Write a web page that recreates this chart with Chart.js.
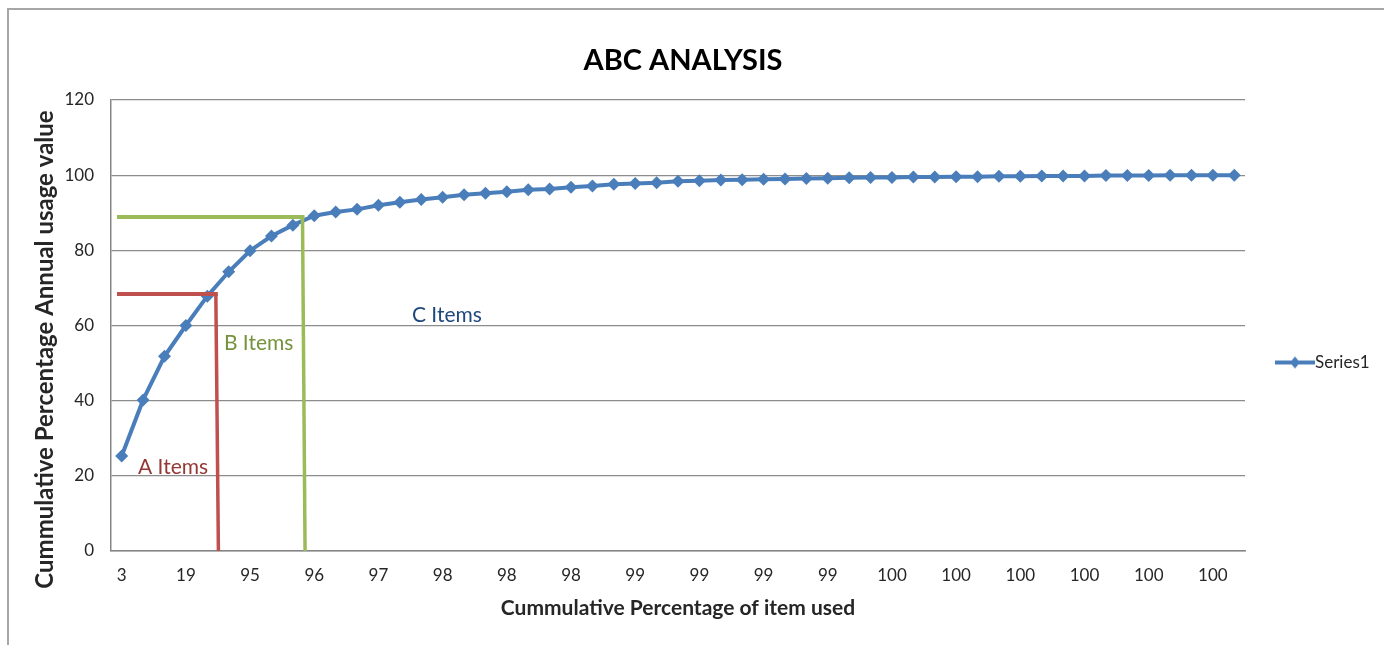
<!DOCTYPE html>
<html>
<head>
<meta charset="utf-8">
<title>ABC Analysis</title>
<script src="https://cdn.jsdelivr.net/npm/chart.js@4.4.1/dist/chart.umd.min.js"></script>
<style>
	html, body { margin: 0; padding: 0; background: #fff; }
	#frame { position: absolute; left: 7px; top: 8px; right: -4px; bottom: -4px; border-left: 2px solid #a6a6a6; border-top: 2px solid #a6a6a6; }
	#wrap { position: absolute; left: 0; top: 0; width: 1384px; height: 645px; }
</style>
</head>
<body>
<div id="frame"></div>
<div id="wrap"><canvas id="chart-abc"></canvas></div>
<script>
// cumulative % of items (only every third one is shown on the axis)
const ITEM_PCT = [
	3, 8, 14, 19, 40, 70, 95, 95, 95, 96, 96, 96, 97, 97, 97, 98, 98, 98,
	98, 98, 98, 98, 98, 99, 99, 99, 99, 99, 99, 99, 99, 99, 99, 99, 99, 99,
	100, 100, 100, 100, 100, 100, 100, 100, 100, 100, 100, 100, 100, 100, 100, 100, 100
];

// cumulative % of annual usage value
const USAGE_PCT = [
	25.3, 40.2, 51.8, 60.0, 67.8, 74.3, 79.9, 83.8, 86.7, 89.2, 90.2, 90.9, 92.0, 92.8, 93.5, 94.1, 94.8, 95.2,
	95.6, 96.1, 96.3, 96.8, 97.1, 97.6, 97.8, 98.0, 98.4, 98.5, 98.7, 98.8, 98.9, 99.0, 99.1, 99.2, 99.3, 99.4,
	99.4, 99.5, 99.5, 99.6, 99.6, 99.7, 99.7, 99.8, 99.8, 99.8, 99.9, 99.9, 99.9, 100, 100, 100, 100
];

const Y_TICKS = [0, 20, 40, 60, 80, 100, 120];

// A/B and B/C cut-offs: usage value and category position where the split falls
const CUT_NAMES = ["A", "B"];
const CUT_VALUE = [68.4, 88.9];
const CUT_INDEX = [4.4, 8.45];

// zone labels, positioned in data units (category index, value)
const ZONE_TEXT = ["A Items", "B Items", "C Items"];
const ZONE_INDEX = [2.4, 6.4, 15.2];
const ZONE_VALUE = [22.4, 55.3, 62.8];

const Y_TITLE = "Cummulative Percentage Annual usage value";

const FONT = "Lato, 'Open Sans', sans-serif";
const BLUE = "#4a7ebb";
const CUT_COLORS = ["#c0504d", "#9bbb59"];
const ZONE_COLORS = ["#953735", "#76923c", "#1f497d"];

// marker image for the legend: short line with a diamond
const legendMarker = (() => {
	const c = document.createElement("canvas");
	c.width = 40;
	c.height = 14;
	const g = c.getContext("2d");
	g.strokeStyle = BLUE;
	g.lineWidth = 4;
	g.beginPath();
	g.moveTo(0, 7);
	g.lineTo(40, 7);
	g.stroke();
	g.fillStyle = BLUE;
	g.beginPath();
	g.moveTo(20, 1);
	g.lineTo(25, 7);
	g.lineTo(20, 13);
	g.lineTo(15, 7);
	g.closePath();
	g.fill();
	return c;
})();

// Cut-off lines, zone labels, y title and legend
const abcOverlay = {
	id: "abcOverlay",
	afterDatasetsDraw(chart) {
		const { ctx, scales: { x, y } } = chart;
		const left = x.getPixelForValue(-0.22);
		ctx.save();
		ctx.lineCap = "butt";
		CUT_NAMES.forEach((name, i) => {
			const yp = y.getPixelForValue(CUT_VALUE[i]);
			const xTop = x.getPixelForValue(CUT_INDEX[i]);
			const xBottom = x.getPixelForValue(CUT_INDEX[i] + 0.12);
			ctx.strokeStyle = CUT_COLORS[i];
			ctx.lineWidth = 4;
			ctx.beginPath();
			ctx.moveTo(left, yp);
			ctx.lineTo(xTop + 2, yp);
			ctx.stroke();
			ctx.lineWidth = 3.5;
			ctx.beginPath();
			ctx.moveTo(xTop, yp);
			ctx.lineTo(xBottom, y.getPixelForValue(0));
			ctx.stroke();
		});

		ctx.font = "21px " + FONT;
		ctx.textAlign = "center";
		ctx.textBaseline = "middle";
		ZONE_TEXT.forEach((t, i) => {
			ctx.fillStyle = ZONE_COLORS[i];
			ctx.fillText(t, x.getPixelForValue(ZONE_INDEX[i]), y.getPixelForValue(ZONE_VALUE[i]));
		});
		ctx.restore();
	},
	afterDraw(chart) {
		const { ctx, chartArea } = chart;
		const midY = (chartArea.top + chartArea.bottom) / 2;

		// y axis title, set a bit below the middle like the original
		ctx.save();
		ctx.translate(45, midY + 24);
		ctx.rotate(-Math.PI / 2);
		ctx.font = "bold 24px " + FONT;
		ctx.fillStyle = "#262626";
		ctx.textAlign = "center";
		ctx.textBaseline = "middle";
		ctx.fillText(Y_TITLE, 0, 0);
		ctx.restore();

		const lx = chartArea.right + 30;
		const ly = midY + 37;
		ctx.save();
		ctx.drawImage(legendMarker, lx, ly - 7);
		ctx.font = "17px " + FONT;
		ctx.fillStyle = "#262626";
		ctx.textAlign = "left";
		ctx.textBaseline = "middle";
		ctx.fillText(chart.data.datasets[0].label, lx + 40, ly);
		ctx.restore();
	},
};

const DATA = {
	labels: ITEM_PCT,
	datasets: [
		{
			label: "Series1",
			data: USAGE_PCT,
			borderColor: BLUE,
			backgroundColor: BLUE,
			borderWidth: 4,
			pointStyle: "rectRot",
			pointRadius: 6.5,
			pointBorderWidth: 0,
			tension: 0,
			yAxisID: "y",
		},
	],
};

// Chart config
const CONFIG = {
	type: "line",
	data: DATA,
	options: {
		responsive: false,
		animation: false,
		layout: {
			padding: { left: 0, right: 18, top: 0, bottom: 0 },
		},
		plugins: {
			legend: { display: false },
			tooltip: { enabled: false },
			title: {
				display: true,
				text: "ABC ANALYSIS",
				color: "#000",
				font: { family: FONT, size: 29, weight: "bold" },
				padding: { top: 43, bottom: 22.2 },
			},
		},
		scales: {
			x: {
				type: "category",
				offset: true,
				grid: { display: false, drawTicks: false },
				border: { display: true, color: "#868686", width: 1.5 },
				ticks: {
					autoSkip: false,
					maxRotation: 0,
					padding: 14,
					color: "#262626",
					font: { family: FONT, size: 17 },
					callback: (val, i) => (i % 3 === 0 ? ITEM_PCT[i] : ""),
				},
				title: {
					display: true,
					text: "Cummulative Percentage of item used",
					color: "#262626",
					font: { family: FONT, size: 21, weight: "bold" },
					padding: { top: 0, bottom: 24.5 },
				},
				afterFit: (s) => {
					s.height = 94;
				},
			},
			y: {
				min: 0,
				max: 120,
				afterBuildTicks: (s) => {
					s.ticks = Y_TICKS.map((v) => ({ value: v }));
				},
				grid: { color: "#8c8c8c", lineWidth: 1.2, drawTicks: false },
				border: { display: true, color: "#868686", width: 1.5 },
				ticks: {
					padding: 17,
					color: "#262626",
					font: { family: FONT, size: 17 },
				},
				afterFit: (s) => {
					s.width = 111;
				},
			},
			// empty right-hand strip that leaves room for the legend
			legendSpace: {
				type: "linear",
				position: "right",
				grid: { display: false, drawTicks: false },
				border: { display: false },
				ticks: { display: false },
				afterFit: (s) => {
					s.width = 121;
				},
			},
		},
	},
	plugins: [abcOverlay],
};

const WRAPPER = document.getElementById("chart-abc");
WRAPPER.width = 1384;
WRAPPER.height = 645;
const chart = new Chart(WRAPPER, CONFIG);
</script>
</body>
</html>
